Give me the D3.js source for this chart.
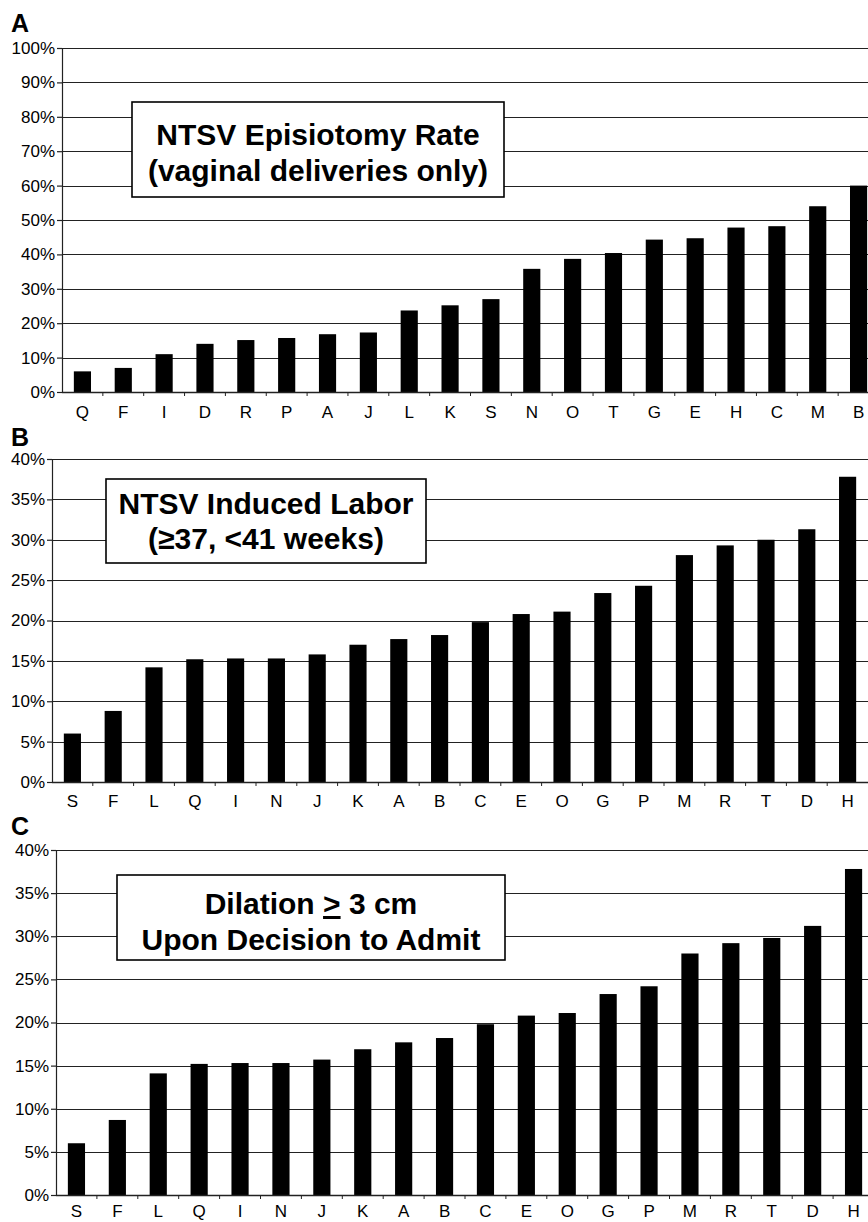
<!DOCTYPE html>
<html>
<head>
<meta charset="utf-8">
<script src="https://cdn.jsdelivr.net/npm/d3@7"></script>
<style>
  body { margin: 0; background: #fff; }
  svg text { font-family: Arial, "Liberation Sans", sans-serif; fill: #000; }
</style>
</head>
<body>
<div id="chart"></div>
<script>
// Panel A: NTSV episiotomy rate
const catsA = ["Q", "F", "I", "D", "R", "P", "A", "J", "L", "K", "S", "N", "O", "T", "G", "E", "H", "C", "M", "B"];
const valsA = [6.0, 7.0, 11.0, 14.0, 15.1, 15.7, 16.8, 17.3, 23.7, 25.2, 27.0, 35.8, 38.7, 40.4, 44.3, 44.7, 47.8, 48.2, 54.0, 60.0];
const ticksA = [0, 10, 20, 30, 40, 50, 60, 70, 80, 90, 100];

// Panel B: NTSV induced labor
const catsB = ["S", "F", "L", "Q", "I", "N", "J", "K", "A", "B", "C", "E", "O", "G", "P", "M", "R", "T", "D", "H"];
const valsB = [6.0, 8.8, 14.2, 15.2, 15.3, 15.3, 15.8, 17.0, 17.7, 18.2, 19.8, 20.8, 21.1, 23.4, 24.3, 28.1, 29.3, 30.0, 31.3, 37.8];
const ticksB = [0, 5, 10, 15, 20, 25, 30, 35, 40];

// Panel C: dilation >= 3 cm on admit
const catsC = ["S", "F", "L", "Q", "I", "N", "J", "K", "A", "B", "C", "E", "O", "G", "P", "M", "R", "T", "D", "H"];
const valsC = [6.0, 8.7, 14.1, 15.2, 15.3, 15.3, 15.7, 16.9, 17.7, 18.2, 19.8, 20.8, 21.1, 23.3, 24.2, 28.0, 29.2, 29.8, 31.2, 37.8];
const ticksC = [0, 5, 10, 15, 20, 25, 30, 35, 40];

const W = 868, H = 1222;
const svg = d3.select("#chart").append("svg").attr("width", W).attr("height", H);

const drawPanel = (p) => {
    const g = svg.append("g");
    const x = d3.scaleBand().domain(p.cats).range([p.x0, p.x1]).paddingInner(0.58).paddingOuter(0.29);
    const y = d3.scaleLinear().domain([0, d3.max(p.ticks)]).range([p.y0, p.y1]);

    // panel letter
    g.append("text").attr("x", 11).attr("y", p.letterY)
        .style("font-size", "25px").style("font-weight", "bold").text(p.letter);

    // gridlines
    g.append("g").selectAll("line").data(p.ticks.filter(d => d > 0)).join("line")
        .attr("x1", p.x0).attr("x2", W)
        .attr("y1", d => Math.round(y(d)) + 0.5).attr("y2", d => Math.round(y(d)) + 0.5)
        .attr("stroke", "#222").attr("stroke-width", 1.2);

    // title box
    const b = p.box;
    g.append("rect").attr("x", b.x).attr("y", b.y).attr("width", b.w).attr("height", b.h)
        .attr("fill", "#fff").attr("stroke", "#000").attr("stroke-width", 1.6);
    const t = g.append("text").attr("text-anchor", "middle")
        .style("font-size", "30px").style("font-weight", "bold");
    b.lines.forEach((ln, i) => {
        const ts = t.append("tspan").attr("x", b.x + b.w / 2).attr("y", b.base[i]);
        ln.forEach(part => {
            const s = ts.append("tspan").text(part.t);
            if (part.u) s.style("text-decoration", "underline");
        });
    });

    // bars
    g.append("g").selectAll("rect").data(p.cats.map((c, i) => ({ c, v: p.vals[i] }))).join("rect")
        .attr("x", d => x(d.c)).attr("width", x.bandwidth())
        .attr("y", d => y(d.v)).attr("height", d => y(0) - y(d.v))
        .attr("fill", "#000");

    // y axis
    const ya = g.append("g").attr("transform", `translate(${p.x0},0)`)
        .call(d3.axisLeft(y).tickValues(p.ticks).tickFormat(d => d + "%").tickSize(5).tickSizeOuter(0).tickPadding(2));
    ya.selectAll("text").style("font-size", "17px");
    ya.selectAll("line, path").attr("stroke", "#222").attr("stroke-width", 1.2);

    // x axis line and labels
    const xa = g.append("g").attr("transform", `translate(0,${p.y0})`)
        .call(d3.axisBottom(x).tickSize(0).tickPadding(p.labelPad));
    xa.select(".domain").remove();
    xa.selectAll("text").style("font-size", "17px");
    g.append("line").attr("x1", p.x0).attr("x2", W).attr("y1", p.y0 + 0.5).attr("y2", p.y0 + 0.5)
        .attr("stroke", "#222").attr("stroke-width", 1.4);

    // ticks between categories
    const gap = (x.step() - x.bandwidth()) / 2;
    g.append("g").selectAll("line").data(p.cats.slice(1)).join("line")
        .attr("x1", d => x(d) - gap).attr("x2", d => x(d) - gap)
        .attr("y1", p.y0).attr("y2", p.y0 + 4)
        .attr("stroke", "#222");
};

drawPanel({
    letter: "A", letterY: 32, cats: catsA, vals: valsA, ticks: ticksA,
    x0: 62, x1: 879, y0: 392, y1: 48, labelPad: 14,
    box: { x: 132, y: 102, w: 372, h: 95, base: [145, 181],
        lines: [[{ t: "NTSV Episiotomy Rate" }], [{ t: "(vaginal deliveries only)" }]] }
});

drawPanel({
    letter: "B", letterY: 446, cats: catsB, vals: valsB, ticks: ticksB,
    x0: 52, x1: 868, y0: 782, y1: 459, labelPad: 13,
    box: { x: 106, y: 479, w: 320, h: 84, base: [514, 549],
        lines: [[{ t: "NTSV Induced Labor" }], [{ t: "(≥37, <41 weeks)" }]] }
});

drawPanel({
    letter: "C", letterY: 835, cats: catsC, vals: valsC, ticks: ticksC,
    x0: 56, x1: 874, y0: 1195, y1: 850, labelPad: 10,
    box: { x: 117, y: 875, w: 388, h: 85, base: [914, 950],
        lines: [[{ t: "Dilation " }, { t: ">", u: true }, { t: " 3 cm" }], [{ t: "Upon Decision to Admit" }]] }
});
</script>
</body>
</html>
